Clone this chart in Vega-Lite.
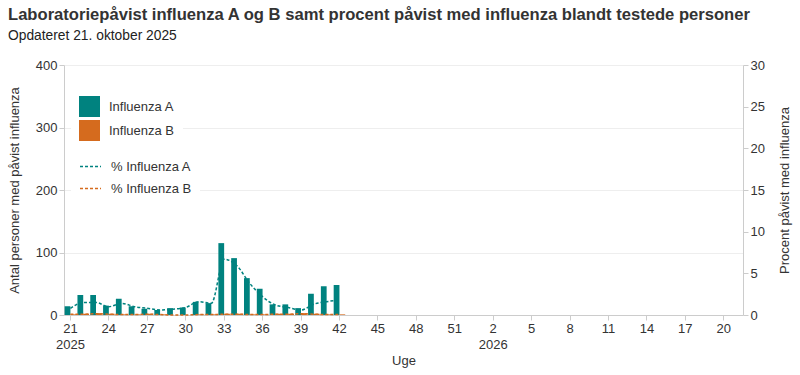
{
  "$schema": "https://vega.github.io/schema/vega-lite/v6.json",
  "autosize": {"type": "none"},
  "width": 679,
  "height": 250,
  "padding": {"left": 64, "top": 65, "right": 57, "bottom": 60},
  "background": "white",
  "title": {
    "text": "Laboratoriepåvist influenza A og B samt procent påvist med influenza blandt testede personer",
    "subtitle": "Opdateret 21. oktober 2025",
    "anchor": "start",
    "frame": "group",
    "dx": -56,
    "offset": 16,
    "font": "Liberation Sans",
    "fontSize": 16.6,
    "fontWeight": "bold",
    "color": "#333333",
    "subtitleFont": "Liberation Sans",
    "subtitleFontSize": 13.8,
    "subtitleColor": "#222222",
    "subtitlePadding": 6
  },
  "data": {
    "values": [
      {"wk": "2025-21", "A": 14, "B": 1, "pA": 0.8, "pB": 0.1},
      {"wk": "2025-22", "A": 32, "B": 2, "pA": 1.5, "pB": 0.1},
      {"wk": "2025-23", "A": 32, "B": 3, "pA": 1.5, "pB": 0.15},
      {"wk": "2025-24", "A": 15, "B": 2, "pA": 1.0, "pB": 0.1},
      {"wk": "2025-25", "A": 26, "B": 1, "pA": 1.4, "pB": 0.05},
      {"wk": "2025-26", "A": 14, "B": 1, "pA": 1.0, "pB": 0.05},
      {"wk": "2025-27", "A": 10, "B": 2, "pA": 0.8, "pB": 0.1},
      {"wk": "2025-28", "A": 8, "B": 1, "pA": 0.6, "pB": 0.05},
      {"wk": "2025-29", "A": 11, "B": 0, "pA": 0.7, "pB": 0.0},
      {"wk": "2025-30", "A": 12, "B": 0, "pA": 0.9, "pB": 0.0},
      {"wk": "2025-31", "A": 21, "B": 1, "pA": 1.6, "pB": 0.05},
      {"wk": "2025-32", "A": 19, "B": 1, "pA": 1.4, "pB": 0.05},
      {"wk": "2025-33", "A": 115, "B": 2, "pA": 6.7, "pB": 0.1},
      {"wk": "2025-34", "A": 91, "B": 2, "pA": 5.9, "pB": 0.1},
      {"wk": "2025-35", "A": 59, "B": 1, "pA": 3.8, "pB": 0.05},
      {"wk": "2025-36", "A": 42, "B": 1, "pA": 2.2, "pB": 0.05},
      {"wk": "2025-37", "A": 17, "B": 2, "pA": 1.2, "pB": 0.1},
      {"wk": "2025-38", "A": 17, "B": 2, "pA": 0.9, "pB": 0.1},
      {"wk": "2025-39", "A": 11, "B": 3, "pA": 0.6, "pB": 0.15},
      {"wk": "2025-40", "A": 34, "B": 2, "pA": 1.3, "pB": 0.1},
      {"wk": "2025-41", "A": 46, "B": 1, "pA": 1.6, "pB": 0.05},
      {"wk": "2025-42", "A": 48, "B": 1, "pA": 1.8, "pB": 0.05}
    ]
  },
  "encoding": {
    "x": {
      "field": "wk",
      "type": "ordinal",
      "title": "Uge",
      "scale": {
        "domain": ["2025-21","2025-22","2025-23","2025-24","2025-25","2025-26","2025-27","2025-28","2025-29","2025-30","2025-31","2025-32","2025-33","2025-34","2025-35","2025-36","2025-37","2025-38","2025-39","2025-40","2025-41","2025-42","2025-43","2025-44","2025-45","2025-46","2025-47","2025-48","2025-49","2025-50","2025-51","2025-52","2026-01","2026-02","2026-03","2026-04","2026-05","2026-06","2026-07","2026-08","2026-09","2026-10","2026-11","2026-12","2026-13","2026-14","2026-15","2026-16","2026-17","2026-18","2026-19","2026-20","2026-21"],
        "paddingInner": 0.1,
        "paddingOuter": 0.05
      },
      "axis": {
        "values": ["2025-21","2025-24","2025-27","2025-30","2025-33","2025-36","2025-39","2025-42","2025-45","2025-48","2025-51","2026-02","2026-05","2026-08","2026-11","2026-14","2026-17","2026-20"],
        "labelExpr": "datum.value == '2025-21' ? ['21', '2025'] : (datum.value == '2026-02' ? ['2', '2026'] : '' + toNumber(substring(datum.value, 5)))",
        "labelAngle": 0,
        "labelFont": "Liberation Sans",
        "labelFontSize": 13,
        "labelColor": "#333333",
        "labelLineHeight": 16,
        "labelPadding": 2,
        "tickColor": "#cccccc",
        "tickSize": 5,
        "domainColor": "#cccccc",
        "titleFont": "Liberation Sans",
        "titleFontSize": 13,
        "titleFontWeight": "normal",
        "titleColor": "#333333",
        "titlePadding": 3
      }
    }
  },
  "layer": [
    {
      "transform": [{"fold": ["A", "B"], "as": ["key", "val"]}, {"calculate": "datum.key == 'A' ? 'Influenza A' : 'Influenza B'", "as": "type"}],
      "mark": {"type": "bar"},
      "encoding": {
        "xOffset": {"field": "type", "type": "nominal", "scale": {"domain": ["Influenza A", "Influenza B"]}},
        "y": {
          "field": "val",
          "type": "quantitative",
          "title": "Antal personer med påvist influenza",
          "scale": {"domain": [0, 400]},
          "axis": {
            "values": [0, 100, 200, 300, 400],
            "labelFont": "Liberation Sans",
            "labelFontSize": 13,
            "labelColor": "#333333",
            "tickColor": "#cccccc",
            "tickSize": 5,
            "domainColor": "#cccccc",
            "gridColor": "#eeeeee",
            "titleFont": "Liberation Sans",
            "titleFontSize": 13,
            "titleFontWeight": "normal",
            "titleColor": "#333333",
            "titlePadding": 14
          }
        },
        "fill": {
          "field": "type",
          "type": "nominal",
          "scale": {"domain": ["Influenza A", "Influenza B"], "range": ["#00827f", "#d56b1e"]},
          "legend": {
            "title": null,
            "orient": "none",
            "legendX": 7,
            "legendY": 23,
            "padding": 8,
            "fillColor": "white",
            "symbolType": "square",
            "symbolSize": 441,
            "symbolStrokeWidth": 0,
            "labelFont": "Liberation Sans",
            "labelFontSize": 13,
            "labelColor": "#333333",
            "labelOffset": 9,
            "rowPadding": 3
          }
        }
      }
    },
    {
      "transform": [{"fold": ["pA", "pB"], "as": ["key", "pct"]}, {"calculate": "datum.key == 'pA' ? '% Influenza A' : '% Influenza B'", "as": "series"}],
      "mark": {"type": "line", "interpolate": "monotone", "strokeDash": [3, 2], "strokeWidth": 1.5},
      "encoding": {
        "y": {
          "field": "pct",
          "type": "quantitative",
          "title": "Procent påvist med influenza",
          "scale": {"domain": [0, 30]},
          "axis": {
            "orient": "right",
            "values": [0, 5, 10, 15, 20, 25, 30],
            "grid": false,
            "labelFont": "Liberation Sans",
            "labelFontSize": 13,
            "labelColor": "#333333",
            "tickColor": "#cccccc",
            "tickSize": 5,
            "domainColor": "#cccccc",
            "titleFont": "Liberation Sans",
            "titleFontSize": 13,
            "titleFontWeight": "normal",
            "titleColor": "#333333",
            "titleAngle": 270,
            "titleBaseline": "bottom",
            "titlePadding": 27
          }
        },
        "stroke": {
          "field": "series",
          "type": "nominal",
          "scale": {"domain": ["% Influenza A", "% Influenza B"], "range": ["#00827f", "#d56b1e"]},
          "legend": {
            "title": null,
            "orient": "none",
            "legendX": 7,
            "legendY": 82,
            "padding": 8,
            "fillColor": "white",
            "symbolType": "stroke",
            "symbolSize": 441,
            "symbolStrokeWidth": 1.5,
            "symbolDash": [3, 2],
            "labelFont": "Liberation Sans",
            "labelFontSize": 13,
            "labelColor": "#333333",
            "labelOffset": 9,
            "rowPadding": 3
          }
        }
      }
    }
  ],
  "resolve": {"scale": {"y": "independent", "fill": "independent", "stroke": "independent"}},
  "config": {
    "view": {"stroke": null},
    "axis": {"gridColor": "#eeeeee"}
  }
}
